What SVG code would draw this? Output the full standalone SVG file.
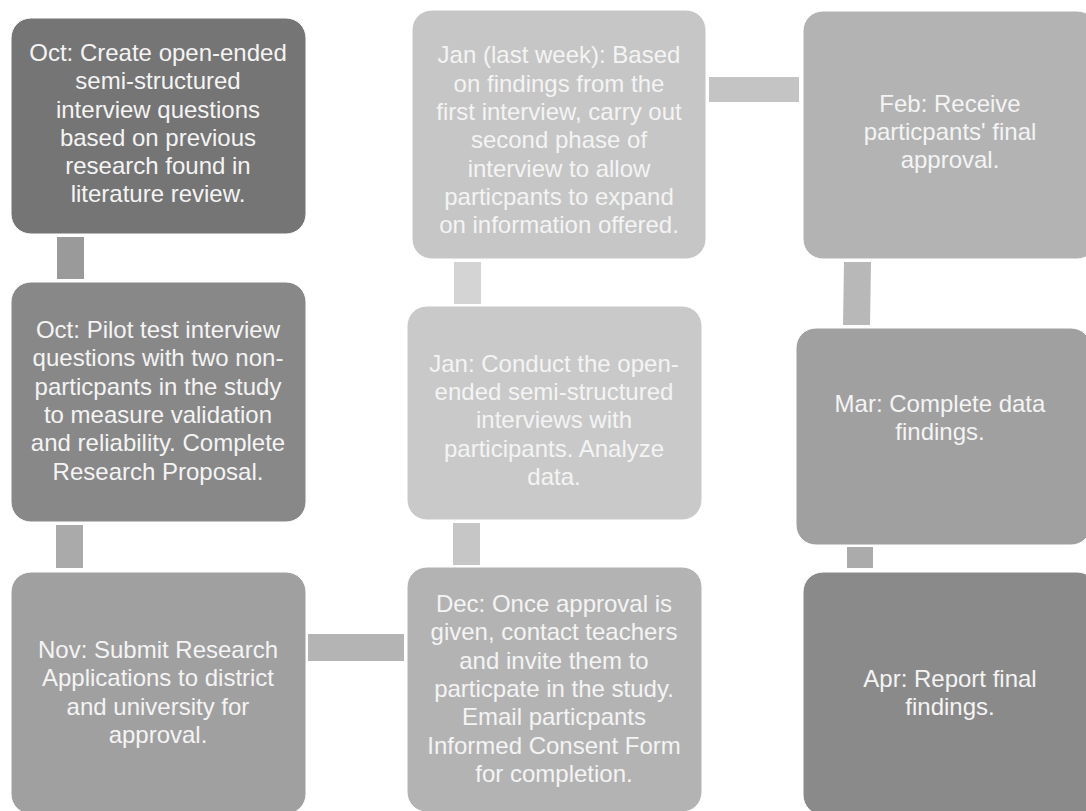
<svg xmlns="http://www.w3.org/2000/svg" width="1086" height="811" viewBox="0 0 1086 811">
<style>
.box{stroke:#ffffff;stroke-width:1}
.t{font-family:"Liberation Sans",Arial,sans-serif;font-size:24px;fill:#f4f4f4;text-anchor:middle}
</style>
<rect width="1086" height="811" fill="#ffffff"/>
<g id="connectors">
<rect x="57" y="237" width="27" height="42" fill="#9a9a9a"/>
<rect x="56" y="525" width="27" height="43" fill="#aaaaaa"/>
<rect x="308" y="634" width="96" height="27" fill="#b4b4b4"/>
<rect x="453" y="523" width="27" height="42" fill="#c6c6c6"/>
<rect x="454" y="262" width="27" height="42" fill="#d4d4d4"/>
<rect x="709" y="77" width="90" height="25" fill="#c4c4c4"/>
<polygon points="844,262 871,262 870,325 843,325" fill="#b8b8b8"/>
<rect x="847" y="547" width="26" height="21" fill="#ababab"/>
</g>
<g id="n1">
<rect class="box" x="11" y="18" width="295" height="216" rx="20" fill="#757575"/>
<text class="t" x="158" y="61">Oct: Create open-ended</text>
<text class="t" x="158" y="89">semi-structured</text>
<text class="t" x="158" y="118">interview questions</text>
<text class="t" x="158" y="146">based on previous</text>
<text class="t" x="158" y="174">research found in</text>
<text class="t" x="158" y="202">literature review.</text>
</g>
<g id="n2">
<rect class="box" x="11" y="282" width="295" height="240" rx="20" fill="#888888"/>
<text class="t" x="158" y="338">Oct: Pilot test interview</text>
<text class="t" x="158" y="366">questions with two non-</text>
<text class="t" x="158" y="395">particpants in the study</text>
<text class="t" x="158" y="423">to measure validation</text>
<text class="t" x="158" y="451">and reliability. Complete</text>
<text class="t" x="158" y="480">Research Proposal.</text>
</g>
<g id="n3">
<rect class="box" x="11" y="572" width="295" height="242" rx="20" fill="#a0a0a0"/>
<text class="t" x="158" y="658">Nov: Submit Research</text>
<text class="t" x="158" y="686">Applications to district</text>
<text class="t" x="158" y="715">and university for</text>
<text class="t" x="158" y="743">approval.</text>
</g>
<g id="n4">
<rect class="box" x="407" y="567" width="295" height="245" rx="20" fill="#b3b3b3"/>
<text class="t" x="554" y="612">Dec: Once approval is</text>
<text class="t" x="554" y="640">given, contact teachers</text>
<text class="t" x="554" y="669">and invite them to</text>
<text class="t" x="554" y="697">particpate in the study.</text>
<text class="t" x="554" y="725">Email particpants</text>
<text class="t" x="554" y="754">Informed Consent Form</text>
<text class="t" x="554" y="782">for completion.</text>
</g>
<g id="n5">
<rect class="box" x="407" y="306" width="295" height="214" rx="20" fill="#c9c9c9"/>
<text class="t" x="554" y="372">Jan: Conduct the open-</text>
<text class="t" x="554" y="400">ended semi-structured</text>
<text class="t" x="554" y="428">interviews with</text>
<text class="t" x="554" y="457">participants. Analyze</text>
<text class="t" x="554" y="485">data.</text>
</g>
<g id="n6">
<rect class="box" x="412" y="10" width="294" height="249" rx="20" fill="#c6c6c6"/>
<text class="t" x="559" y="63">Jan (last week): Based</text>
<text class="t" x="559" y="92">on findings from the</text>
<text class="t" x="559" y="120">first interview, carry out</text>
<text class="t" x="559" y="148">second phase of</text>
<text class="t" x="559" y="177">interview to allow</text>
<text class="t" x="559" y="205">particpants to expand</text>
<text class="t" x="559" y="233">on information offered.</text>
</g>
<g id="n7">
<rect class="box" x="803" y="11" width="294" height="248" rx="20" fill="#b3b3b3"/>
<text class="t" x="950" y="112">Feb: Receive</text>
<text class="t" x="950" y="140">particpants' final</text>
<text class="t" x="950" y="168">approval.</text>
</g>
<g id="n8">
<rect class="box" x="796" y="328" width="295" height="217" rx="20" fill="#a0a0a0"/>
<text class="t" x="940" y="412">Mar: Complete data</text>
<text class="t" x="940" y="440">findings.</text>
</g>
<g id="n9">
<rect class="box" x="803" y="572" width="294" height="243" rx="20" fill="#8a8a8a"/>
<text class="t" x="950" y="687">Apr: Report final</text>
<text class="t" x="950" y="715">findings.</text>
</g>
</svg>
